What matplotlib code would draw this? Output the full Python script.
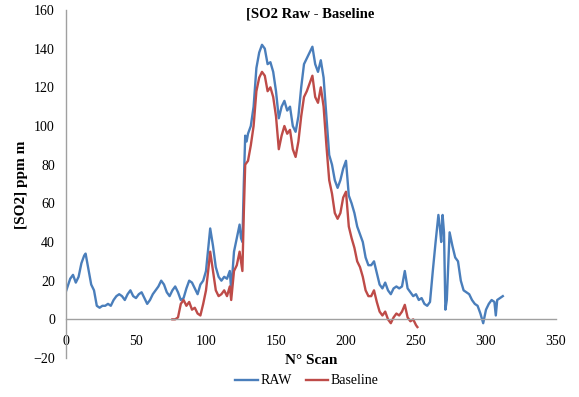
import numpy as np
import matplotlib.pyplot as plt

# ============================================================
# DATA
# ============================================================

raw_scan = [0, 3, 5, 7, 9, 11, 13, 14, 16, 18, 20, 22, 24, 26, 28, 30, 32, 34, 36, 38,
            40, 42, 44, 46, 48, 50, 52, 54, 56, 58, 60, 62, 64, 66, 68, 70, 72, 74, 76, 78,
            80, 82, 84, 86, 88, 90, 92, 94, 96, 98, 100, 102, 103, 105, 107, 109, 111, 113, 115, 117,
            118, 120, 122, 124, 125, 126, 127, 128, 129, 130, 132, 134, 136, 138, 140, 142, 144, 146, 148, 150,
            152, 154, 156, 158, 160, 162, 164, 166, 168, 170, 172, 174, 176, 178, 180, 182, 184, 186, 188, 190,
            192, 194, 196, 198, 200, 202, 204, 206, 208, 210, 212, 214, 216, 218, 220, 222, 224, 226, 228, 230,
            232, 234, 236, 238, 240, 242, 244, 246, 248, 250, 252, 254, 256, 258, 260, 262, 264, 266, 267, 268,
            269, 270, 271, 272, 274, 276, 278, 280, 282, 284, 286, 288, 290, 292, 294, 296, 298, 300, 302, 304,
            306, 307, 308, 310, 312]
raw_val = [14.5, 21, 23, 19, 22, 29, 33, 34, 26, 18, 15, 7, 6, 7, 7, 8, 7, 10, 12, 13,
           12, 10, 13, 15, 12, 11, 13, 14, 11, 8, 10, 13, 15, 17, 20, 18, 14, 12, 15, 17,
           14, 10, 11, 16, 20, 19, 16, 13, 18, 20, 25, 40, 47, 38, 27, 22, 20, 22, 21, 25,
           15, 35, 42, 49, 42, 40, 70, 95, 92, 96, 100, 110, 130, 138, 142, 140, 132, 133, 128, 118,
           104, 110, 113, 108, 110, 100, 97, 105, 120, 132, 135, 138, 141, 132, 128, 134, 125, 105, 85, 80,
           72, 68, 72, 78, 82, 64, 60, 55, 48, 44, 40, 32, 28, 28, 30, 24, 18, 16, 19, 15,
           13, 16, 17, 16, 17, 25, 16, 14, 12, 13, 10, 11, 8, 7, 9, 25, 40, 54, 48, 40,
           54, 45, 5, 10, 45, 38, 32, 30, 20, 15, 14, 13, 10, 8, 7, 3, -2, 5, 8, 10,
           9, 2, 10, 11, 12]

base_scan = [76, 78, 80, 82, 84, 86, 88, 90, 92, 94, 96, 98, 100, 102, 103, 105, 107, 109, 111, 113,
             115, 117, 118, 120, 122, 124, 126, 127, 128, 130, 132, 134, 136, 138, 140, 142, 144, 146, 148, 150,
             152, 154, 156, 158, 160, 162, 164, 166, 168, 170, 172, 174, 176, 178, 180, 182, 184, 186, 188, 190,
             192, 194, 196, 198, 200, 202, 204, 206, 208, 210, 212, 214, 216, 218, 220, 222, 224, 226, 228, 230,
             232, 234, 236, 238, 240, 242, 244, 246, 248, 250, 251]
base_val = [0, 0, 1, 8, 10, 7, 9, 5, 6, 3, 2, 8, 15, 28, 35, 25, 15, 12, 13, 15,
            12, 17, 10, 25, 28, 35, 25, 55, 80, 82, 90, 100, 118, 125, 128, 126, 118, 120, 115, 105,
            88, 95, 100, 96, 98, 88, 84, 92, 105, 115, 118, 122, 126, 115, 112, 120, 110, 90, 72, 65,
            55, 52, 55, 63, 66, 48, 42, 37, 30, 27, 22, 15, 12, 12, 15, 9, 4, 2, 4, 0,
            -2, 1, 3, 2, 4, 7.5, 1, -1, 0, -3, -4]

X_TICKS = [0, 50, 100, 150, 200, 250, 300, 350]
Y_TICKS = [-20, 0, 20, 40, 60, 80, 100, 120, 140, 160]

BLUE = "#4A7EBB"
RED = "#BE4B48"

plt.rcParams["font.family"] = ["Liberation Serif", "DejaVu Serif"]

# ============================================================
# Plot
# ============================================================

fig = plt.figure(figsize=(5.79, 3.97), dpi=100)
ax = fig.add_axes([66 / 579, 1 - 358 / 397, (556 - 66) / 579, (358 - 10) / 397])

ax.plot(raw_scan, raw_val, color=BLUE, linewidth=1.7, label="RAW")
ax.plot(base_scan, base_val, color=RED, linewidth=1.7, label="Baseline")

ax.set_xlim(0, 350)
ax.set_ylim(-20, 160)
ax.set_xticks(X_TICKS)
ax.set_yticks(Y_TICKS)

for s in ["top", "right"]:
    ax.spines[s].set_visible(False)
ax.spines["bottom"].set_position(("data", 0))
ax.spines["bottom"].set_color("#A0A0A0")
ax.spines["left"].set_color("#A0A0A0")
ax.spines["bottom"].set_linewidth(1.0)
ax.spines["left"].set_linewidth(1.0)
ax.tick_params(axis="both", length=0, labelsize=10, colors="black")
ax.tick_params(axis="x", pad=11)
ax.tick_params(axis="y", pad=8)

fig.text(310 / 579, 1 - 14 / 397, "[SO2 Raw - Baseline", ha="center", va="center",
         fontsize=10.5, fontweight="bold")
fig.text(311 / 579, 1 - 361 / 397, "N° Scan", ha="center", va="center",
         fontsize=11, fontweight="bold")
fig.text(22 / 579, 1 - 185 / 397, "[SO2] ppm m", ha="center", va="center",
         rotation=90, fontsize=11, fontweight="bold")

fig.legend(loc="center", bbox_to_anchor=(307 / 579, 1 - 381 / 397), ncol=2,
           frameon=False, fontsize=10, handlelength=1.6, handletextpad=0.2,
           columnspacing=1.0)

fig.savefig("out.png", dpi=100)
